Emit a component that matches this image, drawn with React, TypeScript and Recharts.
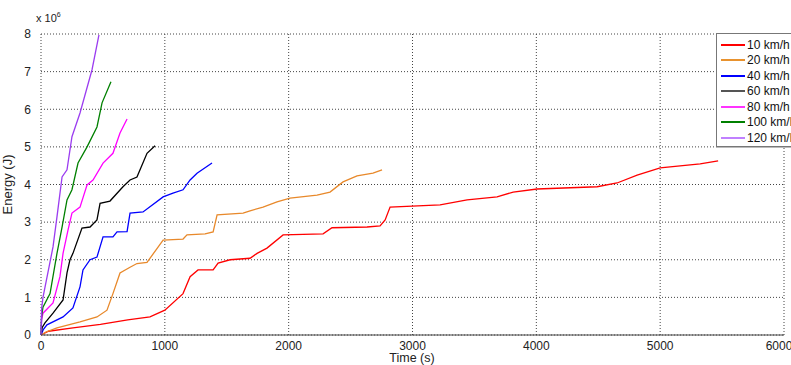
import { LineChart, Line, XAxis, YAxis, CartesianGrid } from "recharts";

// energy in units of 1e6 J, time in s
const v10 = [
  [0, 0], [60, 0.1], [258, 0.19], [480, 0.28], [700, 0.4], [880, 0.48], [1000, 0.66],
  [1147, 1.1], [1204, 1.55], [1268, 1.73], [1390, 1.73], [1430, 1.91], [1527, 2.0],
  [1688, 2.04], [1745, 2.17], [1825, 2.31], [1955, 2.66], [2278, 2.69], [2350, 2.85],
  [2633, 2.87], [2738, 2.9], [2779, 3.06], [2819, 3.4], [3223, 3.46], [3441, 3.59],
  [3683, 3.67], [3813, 3.8], [4006, 3.88], [4491, 3.94], [4652, 4.04], [4814, 4.25],
  [5000, 4.44], [5323, 4.55], [5468, 4.63],
];
const v20 = [
  [0, 0], [40, 0.08], [129, 0.19], [315, 0.35], [452, 0.48], [533, 0.66], [581, 1.1],
  [638, 1.65], [719, 1.8], [775, 1.9], [856, 1.93], [986, 2.52], [1147, 2.55],
  [1179, 2.66], [1325, 2.69], [1390, 2.74], [1422, 3.19], [1632, 3.24], [1688, 3.3],
  [1793, 3.4], [1906, 3.54], [2011, 3.64], [2229, 3.72], [2334, 3.8], [2439, 4.07],
  [2552, 4.23], [2681, 4.3], [2754, 4.39],
];
const v40 = [
  [0, 0], [20, 0.15], [48, 0.27], [178, 0.48], [258, 0.72], [315, 1.28], [339, 1.73],
  [396, 2.0], [452, 2.07], [501, 2.61], [581, 2.61], [614, 2.74], [695, 2.75],
  [719, 3.24], [824, 3.27], [986, 3.67], [1066, 3.77], [1147, 3.86], [1204, 4.12],
  [1260, 4.3], [1381, 4.57],
];
const v60 = [
  [0, 0], [10, 0.2], [32, 0.32], [97, 0.58], [178, 0.93], [210, 1.65], [234, 2.0],
  [258, 2.17], [331, 2.84], [396, 2.87], [452, 3.06], [477, 3.5], [557, 3.56],
  [662, 3.94], [719, 4.12], [775, 4.2], [856, 4.83], [921, 5.03],
];
const v80 = [
  [0, 0], [5, 0.4], [16, 0.58], [97, 0.85], [153, 1.55], [178, 2.17], [218, 2.79],
  [250, 3.24], [315, 3.4], [372, 3.99], [420, 4.12], [501, 4.57], [581, 4.83],
  [638, 5.37], [695, 5.74],
];
const v100 = [
  [0, 0], [5, 0.5], [16, 0.74], [73, 1.1], [129, 2.17], [170, 2.87], [210, 3.59],
  [250, 3.86], [299, 4.57], [372, 5.0], [452, 5.53], [493, 6.17], [565, 6.73],
];
const v120 = [
  [0, 0], [5, 0.7], [16, 1.0], [97, 2.34], [129, 3.14], [170, 4.2], [210, 4.39],
  [250, 5.27], [315, 5.9], [412, 7.05], [468, 7.98],
];

const speeds = ["10 km/h", "20 km/h", "40 km/h", "60 km/h", "80 km/h", "100 km/h", "120 km/h"];
const colors = ["#ff0000", "#e8892b", "#0000ff", "#000000", "#ff00ff", "#008000", "#9b3cf0"];
const legendColors = ["#ff0000", "#e8922e", "#0000ff", "#555555", "#ff33ff", "#008000", "#c080ff"];
const allSeries = [v10, v20, v40, v60, v80, v100, v120];

const xTicks = [0, 1000, 2000, 3000, 4000, 5000, 6000];
const yTicks = [0, 1, 2, 3, 4, 5, 6, 7, 8];

const font = "'Liberation Sans', Arial, sans-serif";

function LegendBox() {
  return (
    <div
      style={{
        position: "absolute",
        left: 716,
        top: 33,
        width: 90,
        height: 114,
        border: "1px solid #777",
        boxShadow: "1px 1px 0 #bbb",
        background: "#fff",
        fontFamily: font,
        fontSize: 12,
        color: "#111",
        paddingTop: 3,
        boxSizing: "border-box",
      }}
    >
      {speeds.map((s, i) => (
        <div key={s} style={{ display: "flex", alignItems: "center", height: 15.5 }}>
          <div style={{ width: 24, height: 2, background: legendColors[i], marginLeft: 4, marginRight: 2 }} />
          <span>{s}</span>
        </div>
      ))}
    </div>
  );
}

export default function App() {
  return (
    <div style={{ position: "fixed", left: 0, top: 0, width: 791, height: 365, overflow: "hidden", background: "#fff" }}>
      <LineChart width={791} height={365} margin={{ top: 34, right: 7, left: 11, bottom: 0 }}>
        <CartesianGrid stroke="#444" strokeDasharray="1 2" />
        <XAxis
          type="number"
          dataKey="t"
          domain={[0, 6000]}
          ticks={xTicks}
          height={30}
          stroke="#444"
          tickLine={false}
          tick={{ fill: "#222", fontSize: 12, fontFamily: font }}
          tickMargin={0}
        />
        <YAxis
          type="number"
          domain={[0, 8]}
          ticks={yTicks}
          width={30}
          axisLine={false}
          tickLine={false}
          tick={{ fill: "#222", fontSize: 12, fontFamily: font }}
          tickMargin={4}
          label={{ value: "Energy (J)", angle: -90, position: "insideLeft", offset: -4, fill: "#222", fontSize: 13, fontFamily: font, style: { textAnchor: "middle" } }}
        />
        {allSeries.map((s, i) => (
          <Line
            key={speeds[i]}
            name={speeds[i]}
            data={s.map(([t, e]) => ({ t, e }))}
            dataKey="e"
            type="linear"
            stroke={colors[i]}
            strokeWidth={1.3}
            dot={false}
            isAnimationActive={false}
          />
        ))}
      </LineChart>
      <LegendBox />
      <div style={{ position: "absolute", left: 36, top: 11, fontFamily: font, fontSize: 11, color: "#222" }}>
        x 10<sup style={{ fontSize: 7 }}>6</sup>
      </div>
      <div style={{ position: "absolute", left: 382, top: 351, width: 60, textAlign: "center", fontFamily: font, fontSize: 12.5, lineHeight: "14px", color: "#222" }}>
        Time (s)
      </div>
    </div>
  );
}
